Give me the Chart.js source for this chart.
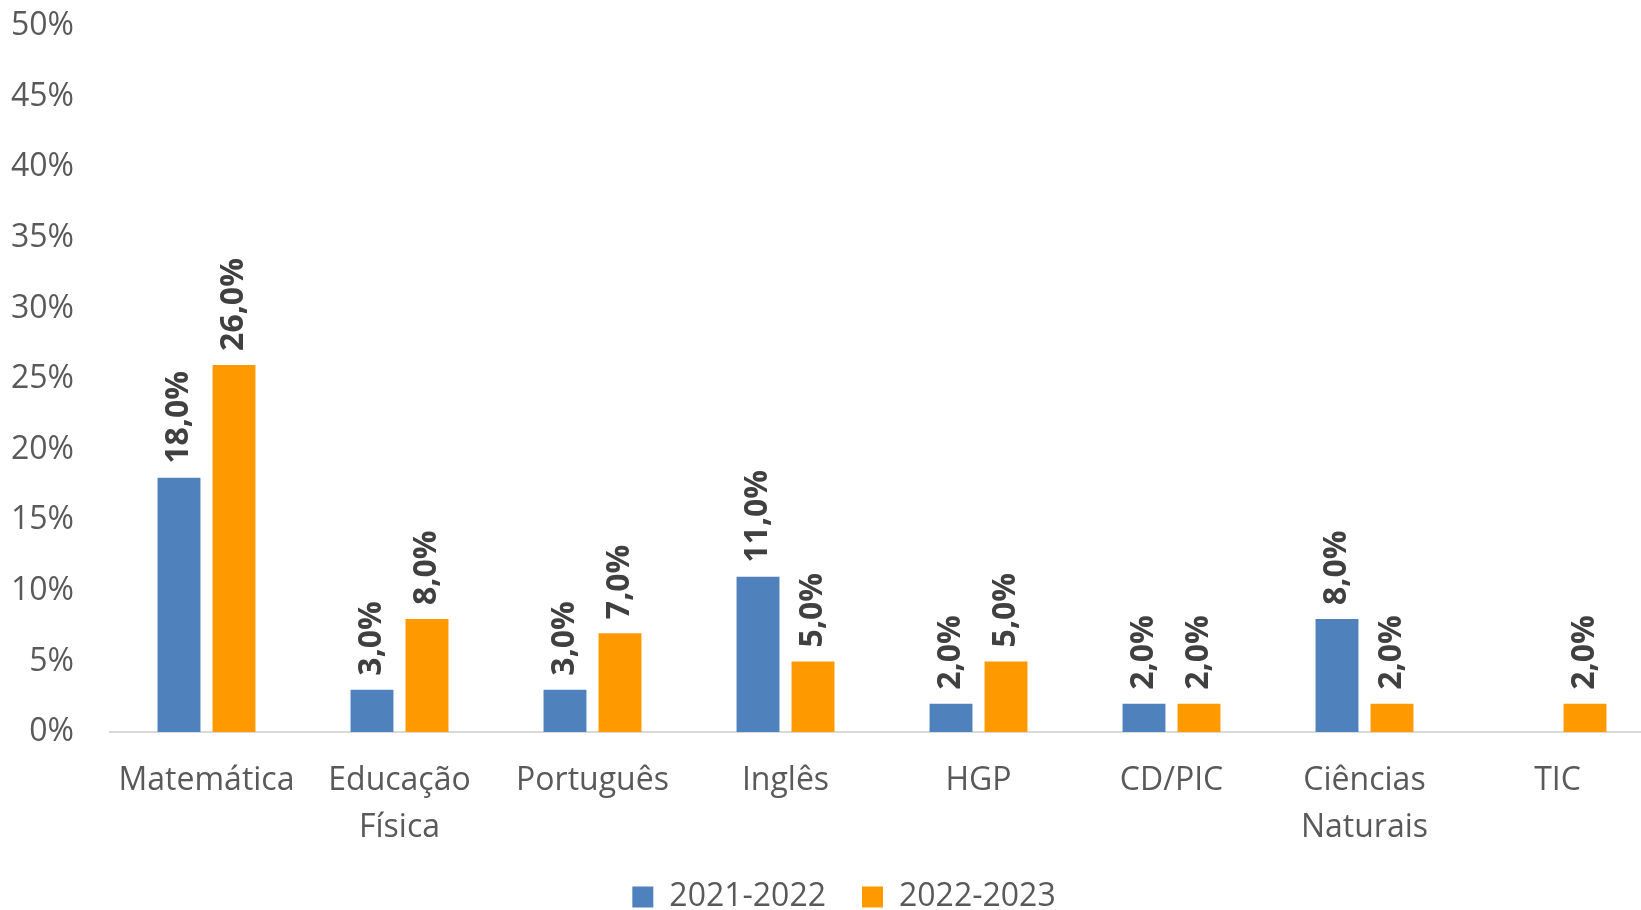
<!DOCTYPE html>
<html>
<head>
<meta charset="utf-8">
<script src="https://cdn.jsdelivr.net/npm/chart.js@4.4.1/dist/chart.umd.min.js"></script>
<style>
  html, body { margin: 0; padding: 0; background: #fff; overflow: hidden; }
  #wrap { width: 1656px; height: 910px; position: relative; }
</style>
</head>
<body>
<div id="wrap"><canvas id="chart"></canvas></div>
<script>
const categories = ["Matemática", ["Educação", "Física"], "Português", "Inglês", "HGP", "CD/PIC", ["Ciências", "Naturais"], "TIC"];
const seriesNames = ["2021-2022", "2022-2023"];
const values2122 = [18, 3, 3, 11, 2, 2, 8, null];
const values2223 = [26, 8, 7, 5, 5, 2, 2, 2];
const yTicks = [0, 5, 10, 15, 20, 25, 30, 35, 40, 45, 50];

const FONT = "'Open Sans', 'Noto Sans', sans-serif";

const barLabels = {
    id: "barLabels",
    afterLayout(chart) {
        // legend sits a bit right of centre in the original
        chart.legend.left += 17;
        chart.legend.right += 17;
    },
    afterDatasetsDraw(chart) {
        const ctx = chart.ctx;
        ctx.save();
        ctx.font = "bold 32px " + FONT;
        ctx.fillStyle = "#404040";
        ctx.textAlign = "left";
        ctx.textBaseline = "middle";
        chart.data.datasets.forEach((ds, i) => {
            const meta = chart.getDatasetMeta(i);
            meta.data.forEach((bar, j) => {
                const v = ds.data[j];
                if (v === null || v === undefined) return;
                ctx.save();
                ctx.translate(bar.x, bar.y - 14);
                ctx.rotate(-Math.PI / 2);
                ctx.fillText(v.toFixed(1).replace(".", ",") + "%", 0, 0);
                ctx.restore();
            });
        });
        ctx.restore();
    }
};

new Chart(document.getElementById("chart"), {
    type: "bar",
    data: {
        labels: categories,
        datasets: [
            { label: seriesNames[0], data: values2122, backgroundColor: "#4F81BD" },
            { label: seriesNames[1], data: values2223, backgroundColor: "#FF9900" }
        ]
    },
    options: {
        responsive: true,
        maintainAspectRatio: false,
        animation: false,
        datasets: {
            bar: { categoryPercentage: 0.57, barPercentage: 0.78 }
        },
        layout: { padding: { top: 0, right: 2, left: 0, bottom: -13 } },
        plugins: {
            legend: {
                position: "bottom",
                labels: {
                    boxWidth: 21,
                    boxHeight: 21,
                    padding: 36,
                    color: "#595959",
                    font: { size: 32, family: FONT }
                }
            },
            tooltip: { enabled: false }
        },
        scales: {
            y: {
                min: 0,
                max: 50,
                afterBuildTicks(scale) {
                    scale.ticks = yTicks.map(v => ({ value: v }));
                },
                afterFit(scale) {
                    scale.width = 110;
                    scale.paddingTop = 26;
                },
                grid: { display: false, drawTicks: false },
                border: { display: false },
                ticks: {
                    padding: 36,
                    color: "#595959",
                    font: { size: 32, family: FONT },
                    callback: v => v + "%"
                }
            },
            x: {
                afterFit(scale) { scale.height = 113; },
                grid: { display: false, drawTicks: false },
                border: { display: true, color: "#D9D9D9", width: 2 },
                ticks: {
                    padding: 26,
                    maxRotation: 0,
                    autoSkip: false,
                    color: "#595959",
                    font: { size: 32, family: FONT, lineHeight: 1.45 }
                }
            }
        }
    },
    plugins: [barLabels]
});
</script>
</body>
</html>
